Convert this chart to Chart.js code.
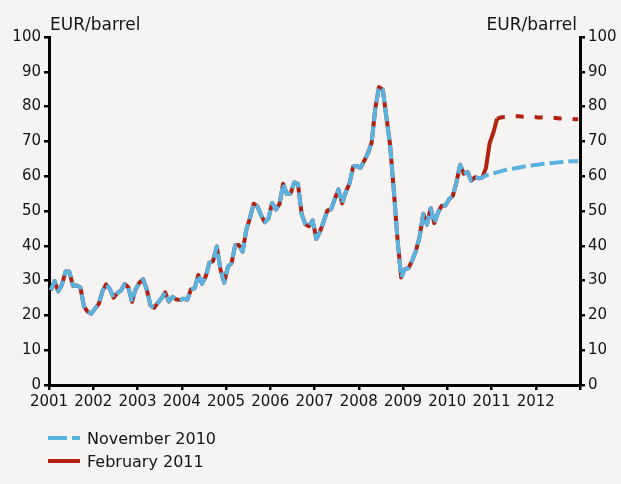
<!DOCTYPE html>
<html><head><meta charset="utf-8">
<script src="https://cdn.jsdelivr.net/npm/chart.js@4.4.1/dist/chart.umd.min.js"></script>
<style>
html,body{margin:0;padding:0;background:#f5f4f2;}
#wrap{width:621px;height:484px;position:relative;}
</style>
</head><body>
<div id="wrap"><canvas id="c" width="621" height="484"></canvas></div>
<script>
// ---- data ----
const startYear = 2001;
const xTickYears = [2001,2002,2003,2004,2005,2006,2007,2008,2009,2010,2011,2012,2013];
const yTickValues = [0,10,20,30,40,50,60,70,80,90,100];
const unitLabel = 'EUR/barrel';
const seriesLabels = ['November 2010', 'February 2011'];
// monthly history, Jan 2001 - Feb 2011 (EUR/barrel)
const historyEUR = [
  27.2, 29.9, 26.9, 28.8, 32.6, 32.6, 28.5, 28.6, 28.1, 22.5, 21.0, 20.5,
  22.0, 23.3, 26.9, 28.9, 27.6, 25.1, 26.4, 27.1, 29.0, 28.1, 23.9, 27.5,
  29.4, 30.4, 27.5, 22.9, 22.2, 23.6, 24.9, 26.6, 24.0, 25.3, 24.6, 24.4,
  24.8, 24.5, 27.5, 27.8, 31.6, 29.1, 31.2, 35.2, 35.6, 39.8, 33.2, 29.4,
  34.0, 35.0, 40.2, 40.2, 38.3, 44.5, 48.0, 52.1, 51.4, 48.8, 46.8, 47.8,
  52.3, 50.4, 52.0, 57.8, 54.9, 55.0, 58.2, 57.8, 49.2, 46.2, 45.6, 47.3,
  42.0, 44.1, 47.0, 50.2, 50.5, 53.4, 56.2, 52.2, 55.5, 58.0, 62.8, 62.9,
  62.4, 64.5, 66.6, 69.7, 79.6, 85.6, 84.9, 77.0, 69.0, 56.0, 42.0, 30.9,
  33.3, 33.6, 35.8, 38.5, 42.6, 49.2, 46.1, 50.8, 46.5, 49.6, 51.5, 51.6,
  53.4, 54.3, 58.3, 63.3, 60.7, 61.2, 58.7, 59.7, 59.4, 59.6, 62.4, 69.5,
  72.5, 76.5
];
// Nov 2010 projection: futures Nov 2010 - Dec 2012
const nov2010Futures = [
  60.2, 60.5, 60.8, 61.1, 61.4, 61.7, 61.9, 62.1, 62.3, 62.5, 62.7, 62.9,
  63.0, 63.2, 63.3, 63.5, 63.6, 63.7, 63.8, 63.9, 64.0, 64.1, 64.2, 64.3, 64.3, 64.4
];
// Feb 2011 projection: futures Mar 2011 - Dec 2012
const feb2011Futures = [
  76.9, 77.0, 77.1, 77.2, 77.2, 77.2, 77.1, 77.1, 77.0, 77.0, 76.9, 76.9,
  76.8, 76.8, 76.7, 76.7, 76.6, 76.6, 76.5, 76.5, 76.4, 76.4
];

// ---- build ----
const NOV_HIST_LEN = 118; // history used by Nov 2010 projection (through Oct 2010)
const monthX = i => startYear + (i + 0.5) / 12;
const blueVals = historyEUR.slice(0, NOV_HIST_LEN).concat(nov2010Futures);
const redVals = historyEUR.concat(feb2011Futures);
const bluePts = blueVals.map((v, i) => ({x: monthX(i), y: v}));
const redPts = redVals.map((v, i) => ({x: monthX(i), y: v}));
const RED_HIST_LAST = historyEUR.length - 1;

const BLUE = '#5ab4e2';
const RED = '#b3200f';
const TXT = '#141414';
const FONT = "'DejaVu Sans', sans-serif";

const overlay = {
  id: 'overlay',
  afterDraw(chart) {
    const ctx = chart.ctx;
    const ca = chart.chartArea;
    ctx.save();
    ctx.fillStyle = TXT;
    ctx.font = '17px ' + FONT;
    ctx.textBaseline = 'alphabetic';
    ctx.textAlign = 'left';
    ctx.fillText(unitLabel, ca.left + 1, 30);
    ctx.textAlign = 'right';
    ctx.fillText(unitLabel, ca.right - 3, 30);
    // legend
    const items = [
      {label: seriesLabels[0], color: BLUE, dash: [19, 5], y: 438},
      {label: seriesLabels[1], color: RED, dash: [], y: 461}
    ];
    ctx.font = '16px ' + FONT;
    ctx.textAlign = 'left';
    items.forEach(it => {
      ctx.beginPath();
      ctx.setLineDash(it.dash);
      ctx.strokeStyle = it.color;
      ctx.lineWidth = 4;
      ctx.moveTo(48, it.y);
      ctx.lineTo(80, it.y);
      ctx.stroke();
      ctx.setLineDash([]);
      ctx.fillStyle = TXT;
      ctx.fillText(it.label, 87, it.y + 6);
    });
    ctx.restore();
  }
};

const yAxis = (pos, w) => ({
  type: 'linear', position: pos, min: 0, max: 100,
  afterBuildTicks: s => { s.ticks = yTickValues.map(v => ({value: v})); },
  ticks: {color: TXT, font: {family: FONT, size: 15}, padding: 3},
  grid: {drawOnChartArea: false, drawTicks: true, tickLength: 5, color: '#000', lineWidth: 2.5},
  border: {display: true, color: '#000', width: 3},
  afterFit: s => { s.width = w; }
});

new Chart(document.getElementById('c'), {
  type: 'line',
  data: {
    datasets: [
      {label: seriesLabels[0], data: bluePts, borderColor: BLUE, borderWidth: 4,
       borderDash: [14, 5], pointRadius: 0, tension: 0, fill: false,
       borderJoinStyle: 'round', yAxisID: 'y'},
      {label: seriesLabels[1], data: redPts, borderColor: RED, borderWidth: 4,
       pointRadius: 0, tension: 0, fill: false, borderJoinStyle: 'round', yAxisID: 'y',
       segment: {borderDash: c => c.p0DataIndex >= RED_HIST_LAST ? [8, 11] : undefined}}
    ]
  },
  options: {
    responsive: false, animation: false, devicePixelRatio: 1,
    layout: {padding: {top: 37, left: 0, right: 0, bottom: 0}},
    plugins: {legend: {display: false}, tooltip: {enabled: false}},
    scales: {
      x: {
        type: 'linear', position: 'bottom', min: 2001, max: 2013,
        afterBuildTicks: s => { s.ticks = xTickYears.map(v => ({value: v})); },
        ticks: {autoSkip: false, maxRotation: 0, padding: 3, color: TXT,
                font: {family: FONT, size: 15},
                callback: v => v === xTickYears[xTickYears.length - 1] ? '' : String(v)},
        grid: {drawOnChartArea: false, drawTicks: true, tickLength: 5, color: '#000', lineWidth: 2.5},
        border: {display: true, color: '#000', width: 3},
        afterFit: s => { s.height = 99; }
      },
      y: yAxis('left', 49),
      y2: yAxis('right', 41)
    }
  },
  plugins: [overlay]
});
</script>
</body></html>
